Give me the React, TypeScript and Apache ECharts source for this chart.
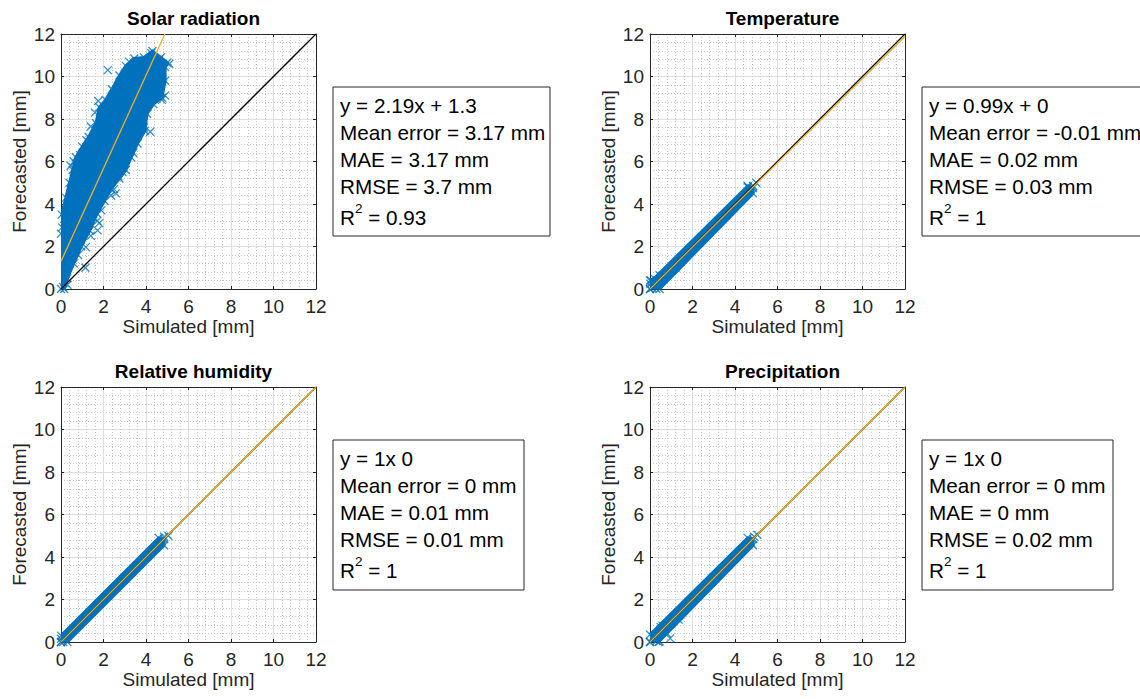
import React, { useEffect, useRef } from "react";
import * as echarts from "echarts";

const TITLES = ["Solar radiation", "Temperature", "Relative humidity", "Precipitation"];
const X_NAME = "Simulated [mm]";
const Y_NAME = "Forecasted [mm]";
const AXIS_MIN = 0;
const AXIS_MAX = 12;
const AXIS_STEP = 2;

// dense scatter cloud outlines (data coordinates)
const SOLAR_CLOUD: number[][] = [
  [0, 0], [0, 2.6], [0.03, 3.5], [0.23, 4.3], [0.4, 5.0], [0.55, 5.6], [0.7, 6.2], [1.0, 6.7],
  [1.3, 7.15], [1.65, 7.8], [1.8, 8.55], [2.1, 8.9], [2.4, 9.4], [2.75, 10.05], [3.05, 10.5],
  [3.45, 10.85], [3.9, 10.9], [4.3, 11.2], [4.7, 10.9], [5.0, 10.65], [4.9, 10.45], [4.9, 9.8],
  [4.75, 9.0], [4.35, 8.7], [4.05, 8.25], [3.95, 7.45], [3.6, 6.85], [3.3, 6.2], [3.05, 5.6],
  [2.75, 5.2], [2.35, 4.7], [2.05, 4.15], [1.7, 3.55], [1.35, 2.75], [0.95, 2.0], [0.6, 1.2],
  [0.3, 0.5], [0.15, 0],
];
const SOLAR_MARKS: number[][] = [
  [2.2, 10.3], [1.75, 8.85], [1.6, 8.3], [1.4, 7.65], [0.45, 5.8], [0.6, 6.0], [4.2, 7.4],
  [4.75, 8.9], [4.9, 9.1], [5.1, 10.6], [3.9, 7.6], [2.7, 5.3], [2.58, 4.5], [2.5, 4.7],
  [2.35, 4.4], [1.9, 3.7], [1.7, 3.2], [1.8, 3.1], [1.72, 2.76], [1.4, 2.5], [1.17, 1.97],
  [1.15, 1.0], [0.3, 0.2], [0.1, 0.1], [4.25, 11.1], [0.9, 6.3], [1.2, 7.0], [3.2, 10.7],
  [4.6, 10.8], [0.15, 3.3], [0.05, 2.9], [2.9, 5.5], [3.4, 6.4], [0.8, 1.6],
];
const TEMP_CLOUD: number[][] = [
  [0, 0], [0, 0.4], [0.2, 0.5], [4.6, 4.85], [4.85, 4.75], [4.85, 4.5], [0.45, 0], [0, 0],
];
const TEMP_MARKS: number[][] = [
  [0.02, 0.25], [0.1, 0.05], [0.3, 0.0], [0.45, 0.65], [1.2, 1.0], [4.85, 4.85], [5.0, 5.0],
  [4.6, 4.8], [0.05, 0.4],
];
const HUM_CLOUD: number[][] = [
  [0, 0], [0, 0.3], [4.6, 4.9], [4.85, 4.85], [4.85, 4.55], [0.3, 0], [0, 0],
];
const HUM_MARKS: number[][] = [
  [0, 0.15], [0.1, 0], [4.85, 4.95], [5.05, 5.0], [0.2, 0.3],
];
const PREC_CLOUD: number[][] = [
  [0, 0], [0, 0.35], [4.6, 4.9], [4.85, 4.85], [4.85, 4.55], [0.4, 0], [0, 0],
];
const PREC_MARKS: number[][] = [
  [0.95, 0.17], [0.8, 0.4], [1.35, 1.05], [0.5, 0.7], [0.3, 0.05], [0.45, 0.02], [0.15, 0.25],
  [5.05, 5.05], [4.9, 4.95], [0.6, 0.75],
];

const CLOUDS = [SOLAR_CLOUD, TEMP_CLOUD, HUM_CLOUD, PREC_CLOUD];
const MARKS = [SOLAR_MARKS, TEMP_MARKS, HUM_MARKS, PREC_MARKS];

// fitted lines (endpoints) and 1:1 line
const FIT_LINES: number[][][] = [
  [[0, 1.3], [4.89, 12]],
  [[0, 0], [12, 11.88]],
  [[0, 0], [12, 12]],
  [[0, 0], [12, 12]],
];
const ONE_TO_ONE: number[][] = [[0, 0], [12, 12]];

const STAT_LINES: string[][] = [
  ["y = 2.19x + 1.3", "Mean error = 3.17 mm", "MAE = 3.17 mm", "RMSE = 3.7 mm"],
  ["y = 0.99x + 0", "Mean error = -0.01 mm", "MAE = 0.02 mm", "RMSE = 0.03 mm"],
  ["y = 1x 0", "Mean error = 0 mm", "MAE = 0.01 mm", "RMSE = 0.01 mm"],
  ["y = 1x 0", "Mean error = 0 mm", "MAE = 0 mm", "RMSE = 0.02 mm"],
];
const R2_VALUES = ["0.93", "1", "1", "1"];

const BLUE = "#0072BD";
const ORANGE = "#EDB120";
const AXIS = "#262626";
const FONT = "'Liberation Sans', Arial, Helvetica, sans-serif";

const GRIDS = [
  { left: 61, top: 34 },
  { left: 650, top: 34 },
  { left: 61, top: 387 },
  { left: 650, top: 387 },
];
const PLOT = 255;
const BOXES = [
  { x: 333, y: 87, w: 217, h: 149 },
  { x: 922, y: 87, w: 240, h: 149 },
  { x: 333, y: 440, w: 191, h: 150 },
  { x: 922, y: 440, w: 191, h: 150 },
];

const X_MARK = "path://M0,0L10,10M10,0L0,10";
const BOX_FONT = 20.7;

export default function App() {
  const ref = useRef<HTMLDivElement>(null);

  useEffect(() => {
    if (!ref.current) return;
    const chart = echarts.init(ref.current, null, { renderer: "svg" });

    const mainAxis = (i: number, kind: "x" | "y") => ({
      type: "value",
      gridIndex: i,
      min: AXIS_MIN,
      max: AXIS_MAX,
      interval: AXIS_STEP,
      position: kind === "x" ? "bottom" : "left",
      name: kind === "x" ? X_NAME : Y_NAME,
      nameLocation: "middle",
      nameGap: kind === "x" ? 23 : 32,
      nameTextStyle: { fontFamily: FONT, fontSize: 19, color: AXIS },
      axisLine: { show: true, onZero: false, lineStyle: { color: AXIS, width: 1 } },
      axisTick: { show: true, inside: true, length: 3, lineStyle: { color: AXIS } },
      axisLabel: { fontFamily: FONT, fontSize: 19, color: AXIS, margin: kind === "x" ? 8 : 6 },
      splitLine: { show: true, lineStyle: { color: "#dedede", width: 1 } },
      minorTick: { show: false, splitNumber: 5 },
      minorSplitLine: { show: true, lineStyle: { color: "#c8c8c8", width: 1, type: [1, 2] } },
    });
    const mirrorAxis = (i: number, kind: "x" | "y") => ({
      type: "value",
      gridIndex: i,
      min: AXIS_MIN,
      max: AXIS_MAX,
      interval: AXIS_STEP,
      position: kind === "x" ? "top" : "right",
      axisLine: { show: true, onZero: false, lineStyle: { color: AXIS, width: 1 } },
      axisTick: { show: true, inside: true, length: 3, lineStyle: { color: AXIS } },
      axisLabel: { show: false },
      splitLine: { show: false },
    });

    const xAxis: any[] = [];
    const yAxis: any[] = [];
    for (let i = 0; i < 4; i++) {
      xAxis.push(mainAxis(i, "x"));
      yAxis.push(mainAxis(i, "y"));
    }
    for (let i = 0; i < 4; i++) {
      xAxis.push(mirrorAxis(i, "x"));
      yAxis.push(mirrorAxis(i, "y"));
    }

    const series: any[] = [];
    for (let i = 0; i < 4; i++) {
      const cloud = CLOUDS[i];
      series.push({
        type: "custom",
        xAxisIndex: i,
        yAxisIndex: i,
        clip: true,
        z: 2,
        data: [[0, 0]],
        renderItem: (_p: any, api: any) => ({
          type: "polygon",
          shape: { points: cloud.map((pt) => api.coord(pt)) },
          style: { fill: BLUE, stroke: BLUE, lineWidth: 3 },
        }),
      });
      series.push({
        type: "scatter",
        xAxisIndex: i,
        yAxisIndex: i,
        z: 3,
        symbol: X_MARK,
        symbolSize: 8,
        clip: true,
        itemStyle: { color: "rgba(0,0,0,0)", borderColor: BLUE, borderWidth: 1.3 },
        data: cloud.concat(MARKS[i]),
      });
      series.push({
        type: "line",
        xAxisIndex: i,
        yAxisIndex: i,
        z: 4,
        showSymbol: false,
        symbol: "none",
        lineStyle: { color: "#000", width: 1.3 },
        data: ONE_TO_ONE,
      });
      series.push({
        type: "line",
        xAxisIndex: i,
        yAxisIndex: i,
        z: 5,
        showSymbol: false,
        symbol: "none",
        lineStyle: { color: ORANGE, width: 1.3 },
        data: FIT_LINES[i],
      });
    }

    const graphic: any[] = [];
    for (let i = 0; i < 4; i++) {
      const b = BOXES[i];
      graphic.push({
        type: "rect",
        shape: { x: b.x, y: b.y, width: b.w, height: b.h },
        style: { fill: "#fff", stroke: AXIS, lineWidth: 1 },
        z: 10,
      });
      const tx = b.x + 7;
      STAT_LINES[i].forEach((t, k) => {
        graphic.push({
          type: "text",
          x: tx,
          y: b.y + 18 + k * 27,
          z: 11,
          style: { text: t, fill: "#000", fontSize: BOX_FONT, fontFamily: FONT, verticalAlign: "middle", align: "left" },
        });
      });
      const ry = b.y + 18 + 4 * 27 + 4;
      graphic.push({
        type: "text", x: tx, y: ry, z: 11,
        style: { text: "R", fill: "#000", fontSize: BOX_FONT, fontFamily: FONT, verticalAlign: "middle", align: "left" },
      });
      graphic.push({
        type: "text", x: tx + 15, y: ry - 9, z: 11,
        style: { text: "2", fill: "#000", fontSize: 13.5, fontFamily: FONT, verticalAlign: "middle", align: "left" },
      });
      graphic.push({
        type: "text", x: tx + 22.5, y: ry, z: 11,
        style: { text: " = " + R2_VALUES[i], fill: "#000", fontSize: BOX_FONT, fontFamily: FONT, verticalAlign: "middle", align: "left" },
      });
    }

    chart.setOption({
      animation: false,
      backgroundColor: "#fff",
      title: TITLES.map((t, i) => ({
        text: t,
        left: GRIDS[i].left + PLOT / 2,
        top: GRIDS[i].top - 30,
        textAlign: "center",
        textStyle: { fontFamily: FONT, fontSize: 19, fontWeight: "bold", color: "#000" },
      })),
      grid: GRIDS.map((g) => ({ left: g.left, top: g.top, width: PLOT, height: PLOT, containLabel: false })),
      xAxis,
      yAxis,
      series,
      graphic,
    });

    return () => chart.dispose();
  }, []);

  return (
    <div
      ref={ref}
      style={{ position: "fixed", left: 0, top: 0, width: 1140, height: 699, background: "#fff" }}
    />
  );
}
